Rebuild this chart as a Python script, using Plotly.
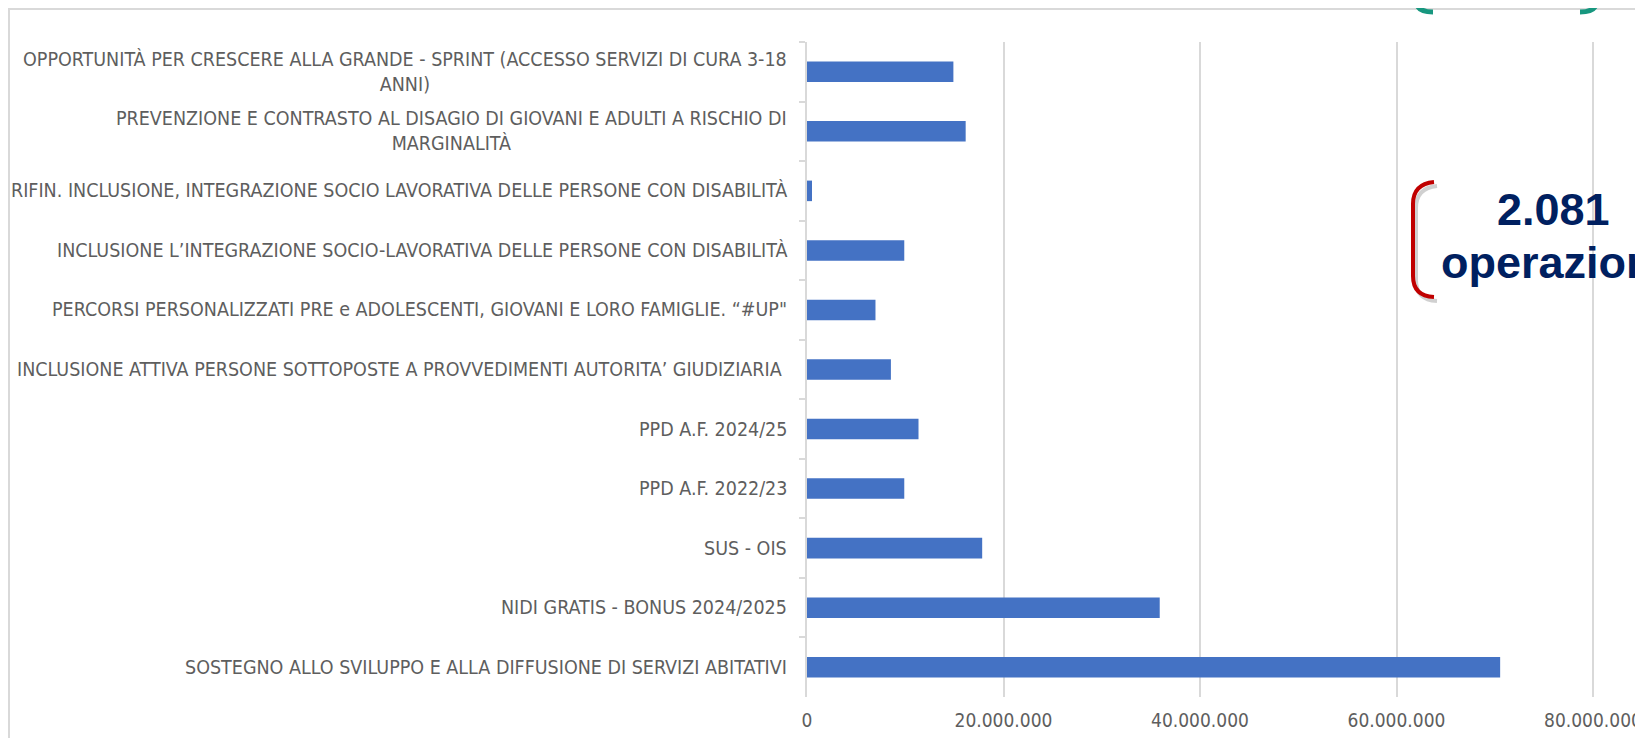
import plotly.graph_objects as go

# categories, top to bottom as in the original chart
categories = [
    "OPPORTUNITÀ PER CRESCERE ALLA GRANDE - SPRINT (ACCESSO SERVIZI DI CURA 3-18<br>ANNI)",
    "PREVENZIONE E CONTRASTO AL DISAGIO DI GIOVANI E ADULTI A RISCHIO DI<br>MARGINALITÀ",
    "RIFIN. INCLUSIONE, INTEGRAZIONE SOCIO LAVORATIVA DELLE PERSONE CON DISABILITÀ",
    "INCLUSIONE L’INTEGRAZIONE SOCIO-LAVORATIVA DELLE PERSONE CON DISABILITÀ",
    "PERCORSI PERSONALIZZATI PRE e ADOLESCENTI, GIOVANI E LORO FAMIGLIE. “#UP\"",
    "INCLUSIONE ATTIVA PERSONE SOTTOPOSTE A PROVVEDIMENTI AUTORITA’ GIUDIZIARIA\u00a0",
    "PPD A.F. 2024/25",
    "PPD A.F. 2022/23",
    "SUS - OIS",
    "NIDI GRATIS - BONUS 2024/2025",
    "SOSTEGNO ALLO SVILUPPO E ALLA DIFFUSIONE DI SERVIZI ABITATIVI",
]
amounts = [
    14_900_000,
    16_150_000,
    510_000,
    9_900_000,
    6_970_000,
    8_540_000,
    11_350_000,
    9_900_000,
    17_830_000,
    35_900_000,
    70_550_000,
]
x_ticks = [0, 20_000_000, 40_000_000, 60_000_000, 80_000_000]
callout_lines = ["2.081", "operazioni"]

W, H = 1643, 738
# the page body has an 8px margin, so the figure is drawn 8px right/down
OFF = 8

# plot box in window pixels
PL, PT, PB = 807, 42, 697
L = PL - OFF
T = PT - OFF
B = H - (PB - OFF)
R = OFF
PW, PH = W - L - R, H - T - B

TEXT = "#5E5E5E"
GRID = "#D9D9D9"
LABEL_FONT = "DejaVu Sans Condensed, Arial Narrow, sans-serif"


def px2paper(x, y):
    # window pixel -> paper fraction
    fx, fy = x - OFF, y - OFF
    return (fx - L) / PW, (H - B - fy) / PH


def path(points_cmds):
    out = []
    for cmd, pts in points_cmds:
        coords = " ".join("%.5f,%.5f" % px2paper(px, py) for px, py in pts)
        out.append(cmd + " " + coords)
    return " ".join(out)


fig = go.Figure(
    go.Bar(
        x=amounts,
        y=categories,
        orientation="h",
        marker=dict(color="#4472C4", line=dict(width=0)),
        hoverinfo="x+y",
    )
)

# 80M sits at window pixel 1593 in the original, the plot runs on past it
x_max = x_ticks[-1] * PW / (1593 - PL)

fig.update_xaxes(
    range=[0, x_max],
    tickvals=x_ticks,
    tickformat=",d",
    showgrid=True,
    gridcolor=GRID,
    gridwidth=1.5,
    zeroline=False,
    showline=False,
    ticks="",
    ticklabelstandoff=10,
    ticklabeloverflow="allow",
    automargin=False,
    tickfont=dict(family=LABEL_FONT, size=19, color=TEXT),
)
fig.update_yaxes(
    autorange="reversed",
    showticklabels=False,
    showgrid=False,
    showline=True,
    linecolor=GRID,
    linewidth=1.5,
    ticks="outside",
    tickson="boundaries",
    ticklen=6,
    tickcolor=GRID,
    tickwidth=1.5,
    automargin=False,
)

annotations = []
for cat in categories:
    annotations.append(dict(
        x=0, xref="paper", y=cat, yref="y",
        text=cat, showarrow=False,
        xanchor="right", yanchor="middle", align="center",
        xshift=-18,
        font=dict(family=LABEL_FONT, size=19.5, color=TEXT),
    ))

# "2.081 operazioni" callout, partly cut off by the right edge
for text, cy in zip(callout_lines, [209, 263]):
    cx, py = px2paper(1553, cy)
    annotations.append(dict(
        x=cx, y=py, xref="paper", yref="paper",
        text="<b>%s</b>" % text, showarrow=False,
        xanchor="center", yanchor="middle",
        font=dict(family="Liberation Sans, Arial, sans-serif", size=45, color="#002060"),
    ))

shapes = []
# outer chart border (left and top visible), pulled onto the figure edge
x0, y0 = px2paper(OFF + 1, OFF + 1)
x1, y1 = px2paper(W + 20, H + 20)
shapes.append(dict(type="rect", xref="paper", yref="paper", x0=x0, y0=y0, x1=x1, y1=y1,
                   line=dict(color=GRID, width=2), layer="below"))

# red bracket with soft shadow
bracket = [(1434, 182), (1413, 184), (1413, 204), (1413, 276), (1413, 296), (1434, 297)]


def bracket_path(pts, dx=0, dy=0):
    p = [(x + dx, y + dy) for x, y in pts]
    return path([("M", [p[0]]), ("Q", [p[1], p[2]]), ("L", [p[3]]), ("Q", [p[4], p[5]])])


shapes.append(dict(type="path", xref="paper", yref="paper", path=bracket_path(bracket, 3, 4),
                   line=dict(color="rgba(120,120,120,0.35)", width=4)))
shapes.append(dict(type="path", xref="paper", yref="paper", path=bracket_path(bracket),
                   line=dict(color="#C00000", width=4)))

# bits of a teal bracket from the slide above, squeezed into the top edge
teal_left = path([("M", [(1416, 0)]), ("Q", [(1416, 12), (1433, 12)])])
teal_right = path([("M", [(1597, 0)]), ("Q", [(1597, 12), (1580, 12)])])
for p in (teal_left, teal_right):
    shapes.append(dict(type="path", xref="paper", yref="paper", path=p,
                       line=dict(color="#17977F", width=5)))

fig.update_layout(
    width=W,
    height=H,
    margin=dict(l=L, r=R, t=T, b=B, pad=0),
    plot_bgcolor="white",
    paper_bgcolor="white",
    separators=",.",
    bargap=0.655,
    showlegend=False,
    annotations=annotations,
    shapes=shapes,
)

fig.write_html("out.html")
